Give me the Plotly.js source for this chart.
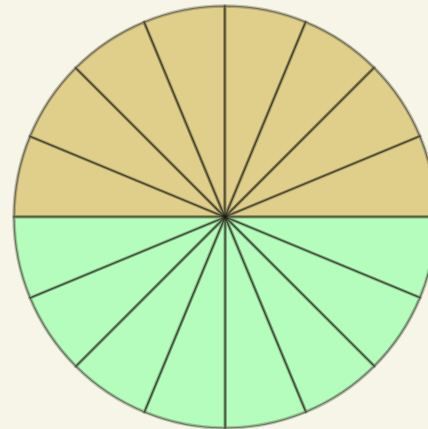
<!DOCTYPE html>
<html>
<head>
<meta charset="utf-8">
<script src="https://cdn.plot.ly/plotly-3.0.1.min.js"></script>
<style>
html,body{margin:0;padding:0;background:#f7f5e8;overflow:hidden;}
#chart{width:450px;height:429px;}
</style>
</head>
<body>
<div id="chart"></div>
<script>
// 16 equal slices: first 8 (clockwise from 9 o'clock) form the upper half, last 8 the lower half
var labels = ["1","2","3","4","5","6","7","8","9","10","11","12","13","14","15","16"];
var values = [1,1,1,1,1,1,1,1,1,1,1,1,1,1,1,1];
var groups = ["upper","upper","upper","upper","upper","upper","upper","upper",
              "lower","lower","lower","lower","lower","lower","lower","lower"];

var groupColor = {upper: "#e0cf8b", lower: "#b4fdbd"};
var fillColors = groups.map(function(g){ return groupColor[g]; });
var clear = groups.map(function(){ return "rgba(0,0,0,0)"; });

var common = {
  type: "pie",
  labels: labels,
  values: values,
  sort: false,
  direction: "clockwise",
  rotation: -90,
  textinfo: "none",
  hoverinfo: "none",
  showlegend: false,
  domain: {x: [0, 1], y: [0, 1]}
};

var base = Object.assign({}, common, {
  marker: {colors: fillColors, line: {color: "rgba(50,50,35,0.28)", width: 3.5}}
});
var edges = Object.assign({}, common, {
  marker: {colors: clear, line: {color: "rgba(30,30,20,0.45)", width: 1.2}}
});

var layout = {
  width: 450,
  height: 429,
  margin: {l: 0, r: 0, t: 6, b: 1, pad: 0},
  paper_bgcolor: "#f7f5e8",
  plot_bgcolor: "#f7f5e8",
  showlegend: false
};

Plotly.newPlot("chart", [base, edges], layout, {staticPlot: true, displayModeBar: false});
</script>
</body>
</html>
